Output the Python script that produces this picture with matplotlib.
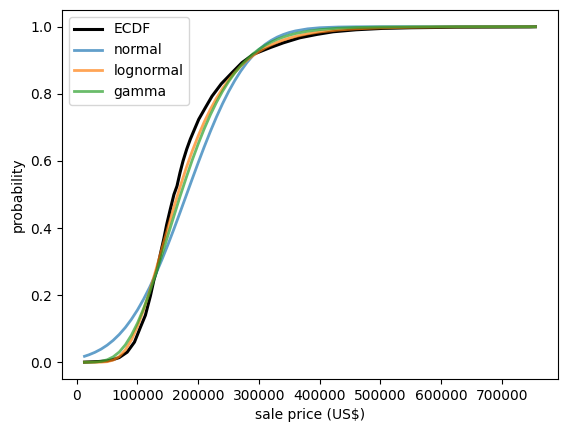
import matplotlib
matplotlib.use('Agg')
import matplotlib.pyplot as plt

# ECDF of sale prices
ecdf_price = [12789, 35000, 50000, 60000, 70000, 83000, 95000, 105000, 113000,
              121300, 127000, 132300, 138000, 143200, 148000, 154000, 160000,
              165000, 170000, 175000, 181000, 187000, 194000, 200800, 211500,
              222700, 238000, 255600, 272000, 291000, 318000, 340000, 367000,
              395000, 422000, 460000, 503000, 550000, 600000, 625000, 745000,
              755000]
ecdf_prob = [0.0003, 0.002, 0.004, 0.008, 0.014, 0.030, 0.06, 0.105, 0.14,
             0.198, 0.245, 0.278, 0.325, 0.367, 0.41, 0.456, 0.50,
             0.525, 0.565, 0.60, 0.635, 0.665, 0.695, 0.724, 0.758,
             0.793, 0.83, 0.863, 0.893, 0.918, 0.9375, 0.952, 0.967,
             0.977, 0.985, 0.991, 0.995, 0.997, 0.998, 0.9986, 0.9995,
             1.0]

# fitted CDFs, sampled at these prices
fit_price = [12789, 20000, 30000, 40000, 50000, 60000, 70000, 80000, 90000,
             100000, 110000, 120000, 130000, 140000, 150000, 160000, 170000,
             180000, 190000, 200000, 210000, 220000, 230000, 240000, 250000,
             260000, 270000, 280000, 290000, 300000, 310000, 320000, 330000,
             340000, 350000, 360000, 380000, 400000, 430000, 460000, 500000,
             550000, 600000, 650000, 755000]
normal_cdf = [0.0177, 0.0221, 0.0296, 0.0390, 0.0508, 0.0653, 0.0828, 0.1035, 0.1279,
              0.1559, 0.1878, 0.2234, 0.2625, 0.3048, 0.3499, 0.3973, 0.4462,
              0.4960, 0.5458, 0.5950, 0.6426, 0.6881, 0.7310, 0.7706, 0.8068,
              0.8392, 0.8679, 0.8928, 0.9141, 0.9321, 0.9471, 0.9593, 0.9691,
              0.9768, 0.9829, 0.9875, 0.9937, 0.9970, 0.9991, 0.9998, 1.0,
              1.0, 1.0, 1.0, 1.0]
lognormal_cdf = [0.0, 0.0, 0.0, 0.0002, 0.0016, 0.0063, 0.017, 0.0366, 0.0664,
                 0.1066, 0.1557, 0.212, 0.273, 0.337, 0.4005, 0.4627, 0.522,
                 0.578, 0.6287, 0.675, 0.7168, 0.754, 0.787, 0.816, 0.8415,
                 0.8635, 0.8828, 0.8995, 0.9137, 0.926, 0.9367, 0.9458, 0.9536,
                 0.9603, 0.966, 0.9709, 0.9787, 0.9843, 0.9901, 0.9937, 0.9965,
                 0.9983, 0.9992, 0.9996, 0.9999]
gamma_cdf = [0.0, 0.0001, 0.0007, 0.0026, 0.0072, 0.016, 0.0305, 0.0518, 0.0806,
             0.1166, 0.1596, 0.2084, 0.2614, 0.3188, 0.3775, 0.436, 0.494,
             0.549, 0.602, 0.651, 0.6965, 0.7376, 0.7747, 0.8077, 0.8366,
             0.862, 0.8839, 0.903, 0.9191, 0.9329, 0.9445, 0.9543, 0.9625,
             0.9693, 0.975, 0.9797, 0.9866, 0.9913, 0.9956, 0.9978, 0.9991,
             0.9997, 0.9999, 1.0, 1.0]

fig = plt.figure(figsize=(5.67, 4.33), dpi=100)
ax = fig.add_axes([0.1093, 0.1247, 0.8747, 0.8523])

ax.plot(ecdf_price, ecdf_prob, color='black', lw=2.2, label='ECDF')
ax.plot(fit_price, normal_cdf, lw=2, alpha=0.7, label='normal')
ax.plot(fit_price, lognormal_cdf, lw=2, alpha=0.7, label='lognormal')
ax.plot(fit_price, gamma_cdf, lw=2, alpha=0.7, label='gamma')

ax.set_xlabel('sale price (US$)')
ax.set_ylabel('probability')
ax.legend(loc='upper left')

fig.savefig('out.png', dpi=100)
